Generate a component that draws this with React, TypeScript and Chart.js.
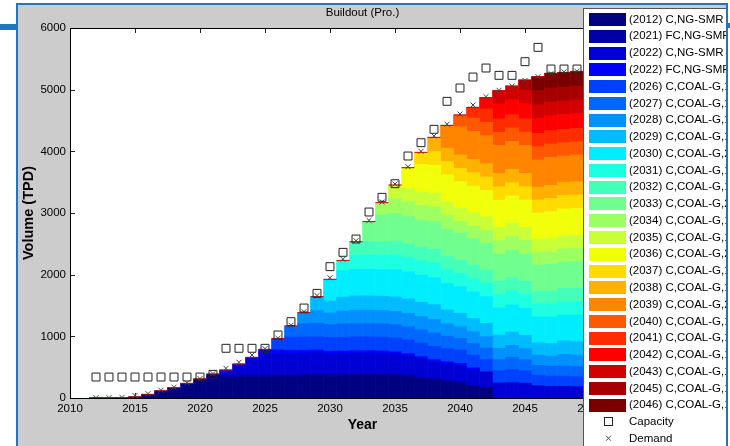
import React, { useEffect, useRef } from "react";
import { Chart, registerables } from "chart.js";

Chart.register(...registerables);

const FONT = '"Liberation Sans", Arial, Helvetica, sans-serif';

const years = [
  2012, 2013, 2014, 2015, 2016, 2017, 2018, 2019, 2020, 2021, 2022, 2023, 2024,
  2025, 2026, 2027, 2028, 2029, 2030, 2031, 2032, 2033, 2034, 2035, 2036, 2037,
  2038, 2039, 2040, 2041, 2042, 2043, 2044, 2045, 2046, 2047, 2048, 2049, 2050,
];

const capacity = [
  340, 340, 340, 340, 340, 340, 340, 340, 340, 384, 806, 806, 806, 806, 1022,
  1238, 1459, 1697, 2130, 2362, 2578, 3016, 3254, 3475, 3924, 4140, 4357, 4811,
  5027, 5205, 5351, 5232, 5232, 5454, 5686, 5335, 5335, 5335, 5335,
];

const demand = [
  5, 5, 10, 40, 70, 125, 175, 245, 315, 395, 481, 579, 697, 800, 970, 1180, 1400,
  1660, 1950, 2250, 2550, 2880, 3180, 3470, 3750, 4000, 4250, 4440, 4605, 4751,
  4886, 4990, 5060, 5150, 5210, 5260, 5290, 5300, 5310,
];

const plantLabels = [
  "(2012) C,NG-SMR",
  "(2021) FC,NG-SMR",
  "(2022) C,NG-SMR",
  "(2022) FC,NG-SMR",
  "(2026) C,COAL-G,1",
  "(2027) C,COAL-G,1",
  "(2028) C,COAL-G,1",
  "(2029) C,COAL-G,1",
  "(2030) C,COAL-G,2",
  "(2031) C,COAL-G,1",
  "(2032) C,COAL-G,1",
  "(2033) C,COAL-G,2",
  "(2034) C,COAL-G,1",
  "(2035) C,COAL-G,1",
  "(2036) C,COAL-G,2",
  "(2037) C,COAL-G,1",
  "(2038) C,COAL-G,1",
  "(2039) C,COAL-G,2",
  "(2040) C,COAL-G,1",
  "(2041) C,COAL-G,1",
  "(2042) C,COAL-G,1",
  "(2043) C,COAL-G,1",
  "(2045) C,COAL-G,1",
  "(2046) C,COAL-G,1",
];

const plantStart = [
  2012, 2021, 2022, 2022, 2026, 2027, 2028, 2029, 2030, 2031, 2032, 2033, 2034,
  2035, 2036, 2037, 2038, 2039, 2040, 2041, 2042, 2043, 2045, 2046,
];

const plantColors = [
  "#000080", "#0000A4", "#0000D4", "#0000FF", "#0040FF", "#0068FF", "#0090FF",
  "#00BCFF", "#00ECFF", "#1CFFE2", "#44FFBA", "#70FF8E", "#9CFF62", "#C8FF36",
  "#F2FF0A", "#FFDC00", "#FFB000", "#FF8400", "#FF5800", "#FF2C00", "#FF0000",
  "#D20000", "#A60000", "#7A0000",
];

// yearly output of each plant, from its build year on
const out2012C = [5, 5, 8, 20, 60, 118, 167, 238, 310, 345, 330, 330, 335, 335, 340, 340, 345, 355, 350, 352, 359, 360, 360, 355, 340, 315, 290, 265, 238, 205, 175];
const out2021FC = [44, 40, 40, 40, 40, 40, 40, 40, 40, 38, 38, 38, 38, 38, 36, 34, 32, 30, 28, 26];
const out2022C = [60, 150, 240, 340, 340, 340, 340, 340, 330, 330, 330, 330, 325, 320, 310, 290, 270, 262, 262, 255, 250, 245, 250, 240, 200, 190, 190, 184, 180];
const out2022FC = [24, 31, 45, 74, 60, 55, 50, 45, 40, 40, 40, 40, 40, 38, 36, 34, 32, 32, 36, 30];
const out2026 = [182, 213, 216, 216, 225, 225, 225, 225, 225, 225, 222, 220, 216, 216, 216, 205, 200, 200, 215, 200, 170, 165, 165, 162, 160];
const out2027 = [180, 213, 216, 210, 216, 216, 216, 216, 216, 216, 216, 216, 200, 190, 190, 185, 180, 195, 180, 160, 160, 165, 162, 160];
const out2028 = [180, 205, 185, 210, 216, 216, 216, 216, 216, 216, 221, 200, 189, 189, 185, 180, 194, 180, 165, 165, 189, 189, 189];
const out2029 = [226, 195, 225, 230, 230, 230, 232, 232, 230, 238, 225, 216, 216, 216, 216, 216, 216, 200, 205, 217, 217, 217];
const out2030 = [352, 430, 433, 433, 433, 445, 440, 438, 440, 432, 432, 432, 432, 440, 440, 440, 420, 430, 420, 432, 440];
const out2031 = [166, 232, 232, 232, 239, 235, 233, 238, 220, 217, 217, 217, 217, 227, 220, 210, 210, 216, 216, 216];
const out2032 = [216, 216, 216, 216, 216, 216, 220, 216, 216, 216, 216, 216, 216, 216, 210, 210, 216, 216, 216];
const out2033 = [324, 438, 450, 445, 440, 445, 435, 432, 432, 432, 440, 440, 440, 420, 433, 425, 433, 440];
const out2034 = [198, 245, 240, 238, 240, 230, 189, 200, 210, 216, 226, 220, 210, 210, 216, 216, 216];
const out2035 = [221, 221, 221, 225, 217, 217, 217, 217, 217, 217, 217, 210, 212, 216, 216, 216];
const out2036 = [332, 449, 455, 440, 432, 432, 432, 440, 440, 440, 425, 433, 433, 433, 433];
const out2037 = [196, 220, 217, 217, 217, 217, 217, 217, 217, 210, 212, 216, 216, 216];
const out2038 = [231, 216, 216, 216, 216, 216, 216, 216, 210, 214, 216, 216, 216];
const out2039 = [371, 459, 454, 454, 454, 454, 454, 440, 455, 425, 433, 439];
const out2040 = [190, 216, 216, 216, 216, 216, 216, 216, 216, 216, 216];
const out2041 = [175, 216, 216, 216, 216, 216, 216, 216, 216, 216];
const out2042 = [184, 243, 243, 243, 243, 243, 243, 243, 243];
const out2043 = [215, 221, 221, 221, 221, 216, 216, 216];
const out2045 = [165, 227, 227, 227, 227, 227];
const out2046 = [228, 238, 238, 238, 238];

const plantOutputs = [
  out2012C, out2021FC, out2022C, out2022FC, out2026, out2027, out2028, out2029,
  out2030, out2031, out2032, out2033, out2034, out2035, out2036, out2037,
  out2038, out2039, out2040, out2041, out2042, out2043, out2045, out2046,
];

function valueAt(vals: number[], start: number, year: number): number | null {
  const k = year - start;
  return k >= 0 && k < vals.length ? vals[k] : null;
}

const figurePlugin = {
  id: "matlabFigure",
  beforeDraw(chart: any) {
    const { ctx, chartArea: a } = chart;
    ctx.save();
    ctx.fillStyle = "#ffffff";
    ctx.fillRect(0, 0, 730, 446);
    ctx.fillStyle = "#cccccc";
    ctx.fillRect(16, 4, 714, 442);
    ctx.fillStyle = "#ffffff";
    ctx.fillRect(a.left, a.top, a.right - a.left, a.bottom - a.top);
    ctx.restore();
  },
  beforeDatasetsDraw(chart: any) {
    const { ctx, chartArea: a, scales } = chart;
    ctx.save();
    ctx.strokeStyle = "#222";
    ctx.lineWidth = 1;
    ctx.beginPath();
    for (let v = 2010; v <= 2055; v += 5) {
      const px = Math.round(scales.x.getPixelForValue(v)) + 0.5;
      ctx.moveTo(px, a.top);
      ctx.lineTo(px, a.top + 5);
      ctx.moveTo(px, a.bottom);
      ctx.lineTo(px, a.bottom - 5);
    }
    for (let v = 0; v <= 6000; v += 1000) {
      const py = Math.round(scales.y.getPixelForValue(v)) + 0.5;
      ctx.moveTo(a.left, py);
      ctx.lineTo(a.left + 5, py);
      ctx.moveTo(a.right, py);
      ctx.lineTo(a.right - 5, py);
    }
    ctx.stroke();
    ctx.restore();
  },
  afterDatasetsDraw(chart: any) {
    const { ctx, chartArea: a } = chart;
    ctx.save();
    ctx.strokeStyle = "#000";
    ctx.lineWidth = 1;
    ctx.strokeRect(a.left + 0.5, a.top + 0.5, a.right - a.left, a.bottom - a.top);
    ctx.restore();
  },
  afterDraw(chart: any) {
    const { ctx, chartArea: a } = chart;
    ctx.save();
    const cx = (a.left + a.right) / 2;
    // title
    ctx.fillStyle = "#000";
    ctx.font = `11.5px ${FONT}`;
    ctx.textAlign = "center";
    ctx.textBaseline = "middle";
    ctx.fillText("Buildout (Pro.)", cx, 13);
    // axis titles
    ctx.font = `bold 14px ${FONT}`;
    ctx.fillText("Year", cx, 425);
    ctx.save();
    ctx.translate(29, (a.top + a.bottom) / 2);
    ctx.rotate(-Math.PI / 2);
    ctx.font = `bold 14.5px ${FONT}`;
    ctx.fillText("Volume (TPD)", 0, 0);
    ctx.restore();

    // legend (clipped by the window frame)
    ctx.save();
    ctx.beginPath();
    ctx.rect(0, 0, 726, 446);
    ctx.clip();
    const lx = 583;
    const ly = 8;
    ctx.fillStyle = "#ffffff";
    ctx.fillRect(lx, ly, 200, 500);
    ctx.strokeStyle = "#555";
    ctx.lineWidth = 1;
    ctx.strokeRect(lx + 0.5, ly + 0.5, 200, 500);
    const step = 16.77;
    ctx.font = `11.5px ${FONT}`;
    ctx.textAlign = "left";
    ctx.textBaseline = "middle";
    const ds = chart.data.datasets;
    let row = 0;
    ds.forEach((d: any) => {
      if (d.type === "line" && !d.legendMarker) return;
      const y = 19 + row * step;
      if (d.legendMarker === "rect") {
        ctx.strokeStyle = "#222";
        ctx.strokeRect(604.5, Math.round(y) - 3.5, 8, 8);
      } else if (d.legendMarker === "x") {
        ctx.strokeStyle = "#444";
        ctx.beginPath();
        ctx.moveTo(606, y - 2.5);
        ctx.lineTo(611, y + 2.5);
        ctx.moveTo(611, y - 2.5);
        ctx.lineTo(606, y + 2.5);
        ctx.stroke();
      } else {
        ctx.fillStyle = d.backgroundColor;
        ctx.fillRect(589, Math.round(y) - 6, 37, 13);
      }
      ctx.fillStyle = "#000";
      ctx.fillText(d.label, 629, y + 0.5);
      row++;
    });
    ctx.restore();

    // window frame
    ctx.fillStyle = "#1f74c4";
    ctx.fillRect(16, 3, 712, 2);
    ctx.fillRect(16, 3, 2, 443);
    ctx.fillRect(726, 3, 2, 443);
    ctx.fillRect(0, 24, 16, 6);
    ctx.fillRect(728, 23, 2, 5);
    ctx.fillStyle = "#ffffff";
    ctx.fillRect(728, 28, 2, 418);
    ctx.fillRect(728, 0, 2, 23);
    ctx.restore();
  },
};

export default function App() {
  const ref = useRef<HTMLCanvasElement>(null);

  useEffect(() => {
    const canvas = ref.current;
    if (!canvas) return;

    const barSets = plantOutputs.map((vals, i) => ({
      type: "bar" as const,
      label: plantLabels[i],
      data: years.map((y) => ({ x: y, y: valueAt(vals, plantStart[i], y) })),
      backgroundColor: plantColors[i],
      borderWidth: 0,
      barPercentage: 1,
      categoryPercentage: 1,
      order: 2,
    }));

    const totals = years.map((y) =>
      plantOutputs.reduce((s, vals, i) => s + (valueAt(vals, plantStart[i], y) ?? 0), 0)
    );
    const topLine: { x: number; y: number | null }[] = [];
    years.forEach((y, i) => {
      topLine.push({ x: y - 0.5, y: totals[i] });
      topLine.push({ x: y + 0.5, y: totals[i] });
      topLine.push({ x: y + 0.5, y: null });
    });

    const chart = new Chart(canvas, {
      type: "bar",
      data: {
        datasets: [
          ...barSets,
          {
            type: "line",
            label: "Production",
            data: topLine,
            yAxisID: "yTop",
            borderColor: "#c80000",
            borderWidth: 1,
            pointRadius: 0,
            spanGaps: false,
            fill: false,
            order: 1,
          },
          {
            type: "line",
            label: "Capacity",
            legendMarker: "rect",
            data: years.map((y, i) => ({ x: y, y: capacity[i] })),
            yAxisID: "yTop",
            showLine: false,
            pointStyle: "rect",
            pointRadius: 5.6,
            pointBorderWidth: 1,
            pointBorderColor: "#222",
            pointBackgroundColor: "rgba(0,0,0,0)",
            order: 0,
          },
          {
            type: "line",
            label: "Demand",
            legendMarker: "x",
            data: years.map((y, i) => ({ x: y, y: demand[i] })),
            yAxisID: "yTop",
            showLine: false,
            pointStyle: "crossRot",
            pointRadius: 3.5,
            pointBorderWidth: 1,
            pointBorderColor: "#444",
            order: 0,
          },
        ] as any,
      },
      options: {
        responsive: false,
        animation: false,
        events: [],
        layout: { padding: { top: 28, right: 75, bottom: 0, left: 0 } },
        plugins: {
          legend: { display: false },
          tooltip: { enabled: false },
          title: { display: false },
        },
        scales: {
          x: {
            type: "linear",
            min: 2010,
            max: 2055,
            stacked: true,
            offset: false,
            grid: { display: false, drawTicks: false },
            border: { display: false },
            ticks: {
              stepSize: 5,
              padding: 4,
              color: "#000",
              font: { family: FONT, size: 11.5 },
              maxRotation: 0,
              autoSkip: false,
              callback: (v: any) => String(v),
            },
            afterFit: (s: any) => {
              s.height = 48;
            },
          },
          y: {
            min: 0,
            max: 6000,
            stacked: true,
            grid: { display: false, drawTicks: false },
            border: { display: false },
            ticks: {
              stepSize: 1000,
              padding: 4,
              color: "#000",
              font: { family: FONT, size: 11.5 },
              callback: (v: any) => String(v),
            },
            afterFit: (s: any) => {
              s.width = 70;
            },
          },
          yTop: { display: false, min: 0, max: 6000, stacked: false },
        },
      } as any,
      plugins: [figurePlugin],
    });

    return () => chart.destroy();
  }, []);

  return (
    <div style={{ position: "fixed", left: 0, top: 0, width: 730, height: 446 }}>
      <canvas ref={ref} width={730} height={446} style={{ display: "block" }} />
    </div>
  );
}
